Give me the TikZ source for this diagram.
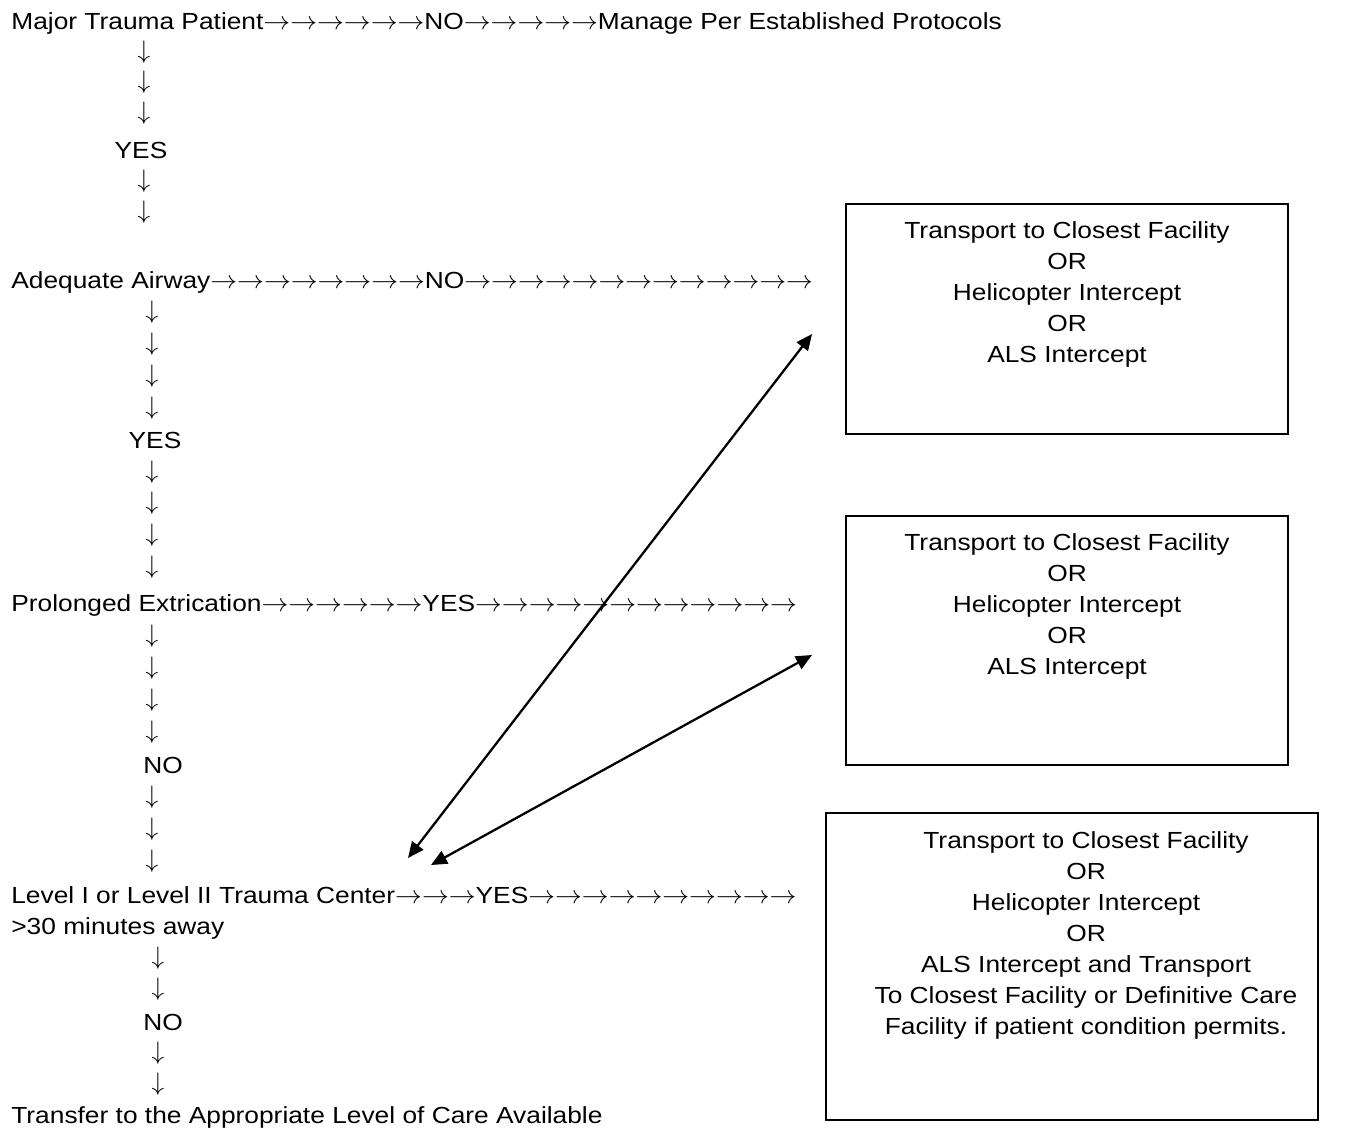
\documentclass[tikz,border=0pt]{standalone}
\usepackage{fontspec}
\setmainfont{Liberation Sans}[FakeStretch=1.13]
\usetikzlibrary{arrows.meta, positioning}

% a row of n text arrows, and one down arrow
\newcommand{\rarr}[1]{\foreach\i in {1,...,#1}{\scalebox{1.06}[1]{$\rightarrow$}}}
\newcommand{\darr}{$\downarrow$}

\begin{document}
\begin{tikzpicture}[x=0.02cm, y=-0.02cm,
  every node/.style={font=\fontsize{13.26}{17.6}\selectfont, inner sep=0pt},
  step line/.style={anchor=base west, align=left},
  dn/.style={},
  optbox/.style={draw, line width=0.9pt},
  opttext/.style={anchor=base, align=center},
  link/.style={{Triangle[length=0.32cm, width=0.28cm]}-{Triangle[length=0.32cm, width=0.28cm]},
               line width=1.3pt}]
  \useasboundingbox (0,0) rectangle (1351,1133);

  % Left column, one node per printed line
  \node[step line] (major) at (11,29.5)
    {Major Trauma Patient\rarr{6}NO\rarr{5}Manage Per Established Protocols};
  \foreach \y in {52,82,113,181,212}
    \node[dn] (dnA\y) at (144,\y) {\darr};
  \node (yesA) at (141,150) {YES};

  \node[step line] (airway) at (11,288.5)
    {Adequate Airway\rarr{8}NO\rarr{13}};
  \foreach \y in {312,344,376,408,472,503,535,567}
    \node[dn] (dnB\y) at (152,\y) {\darr};
  \node (yesB) at (155,440) {YES};

  \node[step line] (extric) at (11,611.5)
    {Prolonged Extrication\rarr{6}YES\rarr{12}};
  \foreach \y in {636,668,700,732,797,829,861}
    \node[dn] (dnC\y) at (152,\y) {\darr};
  \node (noC) at (163,765) {NO};

  % base of a two-line node sits on its last line
  \node[step line] (level) at (11,934.5)
    {Level I or Level II Trauma Center\rarr{3}YES\rarr{10}\\>30 minutes away};
  \foreach \y in {958,989,1053,1084}
    \node[dn] (dnD\y) at (158,\y) {\darr};
  \node (noD) at (163,1022) {NO};

  \node[step line] (transfer) at (11,1123.5)
    {Transfer to the Appropriate Level of Care Available};

  % Option boxes on the right
  \node[optbox, minimum width=8.84cm, minimum height=4.6cm] (box1) at (1067,319) {};
  \node[opttext] (opt1) at (1067,362.5)
    {Transport to Closest Facility\\OR\\Helicopter Intercept\\OR\\ALS Intercept};

  \node[optbox, minimum width=8.84cm, minimum height=4.98cm] (box2) at (1067,640.5) {};
  \node[opttext] (opt2) at (1067,674.5)
    {Transport to Closest Facility\\OR\\Helicopter Intercept\\OR\\ALS Intercept};

  \node[optbox, minimum width=9.84cm, minimum height=6.14cm] (box3) at (1072,966.5) {};
  \node[opttext] (opt3) at (1086,1034.5)
    {Transport to Closest Facility\\OR\\Helicopter Intercept\\OR\\ALS Intercept and Transport\\
     To Closest Facility or Definitive Care\\Facility if patient condition permits.};

  % Diagonal links
  \coordinate (lvlA) at (408,858);
  \coordinate (optA) at (812,334);
  \coordinate (lvlB) at (431,865);
  \coordinate (optB) at (812,655);
  \draw[link] (lvlA) -- (optA);
  \draw[link] (lvlB) -- (optB);
\end{tikzpicture}
\end{document}
